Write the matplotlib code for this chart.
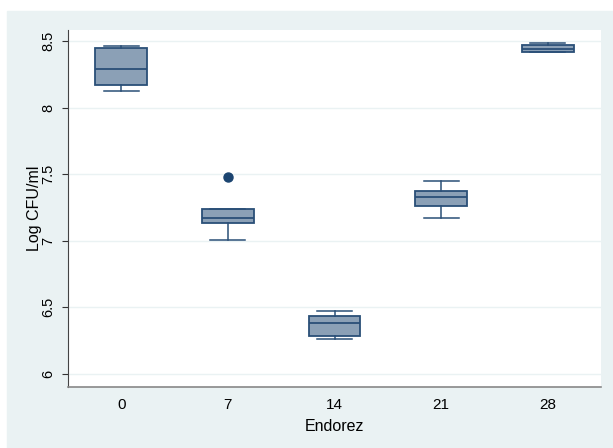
import matplotlib
matplotlib.use('Agg')
import matplotlib.pyplot as plt
from matplotlib.patches import Rectangle

# ── Data ────────────────────────────────────────────────────
days = ['0', '7', '14', '21', '28']
q1 = [8.167, 7.129, 6.285, 7.261, 8.420]
med = [8.292, 7.171, 6.380, 7.330, 8.440]
q3 = [8.445, 7.235, 6.431, 7.375, 8.470]
whis_lo = [8.122, 7.004, 6.262, 7.167, 8.420]
whis_hi = [8.462, 7.235, 6.468, 7.450, 8.485]
outliers = [[], [7.475], [], [], []]

BG = '#EAF2F3'
FILL = '#8BA0B6'
EDGE = '#2A4F77'
DOT = '#1B4470'

plt.rcParams['font.family'] = ['Liberation Sans', 'DejaVu Sans']

fig = plt.figure(figsize=(6.13, 4.48), dpi=100)
fig.patches.append(Rectangle((7 / 613, 0), 1, 1 - 11 / 448,
                             transform=fig.transFigure, color=BG,
                             zorder=-10))
ax = fig.add_axes([68 / 613, 1 - 387 / 448, 533 / 613, 357 / 448])
ax.set_facecolor('white')

stats = []
for i in range(len(days)):
    stats.append({'q1': q1[i], 'med': med[i], 'q3': q3[i],
                  'whislo': whis_lo[i], 'whishi': whis_hi[i],
                  'fliers': outliers[i], 'label': days[i]})

ax.bxp(stats, positions=range(len(days)), widths=0.485, capwidths=0.33,
       patch_artist=True,
       boxprops=dict(facecolor=FILL, edgecolor=EDGE, linewidth=1.3),
       medianprops=dict(color=EDGE, linewidth=1.3),
       whiskerprops=dict(color=EDGE, linewidth=1.1),
       capprops=dict(color=EDGE, linewidth=1.1),
       flierprops=dict(marker='o', markerfacecolor=DOT, markeredgecolor=DOT,
                       markersize=6.5))

ax.set_xlim(-0.5, 4.5)
ax.set_ylim(5.90, 8.583)
ax.set_yticks([6, 6.5, 7, 7.5, 8, 8.5])
ax.set_yticklabels(['6', '6.5', '7', '7.5', '8', '8.5'], rotation=90,
                   va='center')
ax.set_xticks(range(len(days)))
ax.set_xticklabels(days)
ax.tick_params(axis='y', labelsize=10.5, length=4.5, color='#333333', pad=4.5)
ax.tick_params(axis='x', labelsize=11, length=0, pad=8)
ax.grid(True, axis='y', color=BG, linewidth=1.0)
ax.set_axisbelow(True)

for s in ['top', 'right']:
    ax.spines[s].set_visible(False)
ax.spines['left'].set_color('#444444')
ax.spines['bottom'].set_color('#888888')
ax.spines['bottom'].set_linewidth(1.2)

ax.set_xlabel('Endorez', fontsize=11.5, labelpad=5)
ax.set_ylabel('Log CFU/ml', fontsize=11.5, labelpad=0)

fig.savefig('out.png', dpi=100)
